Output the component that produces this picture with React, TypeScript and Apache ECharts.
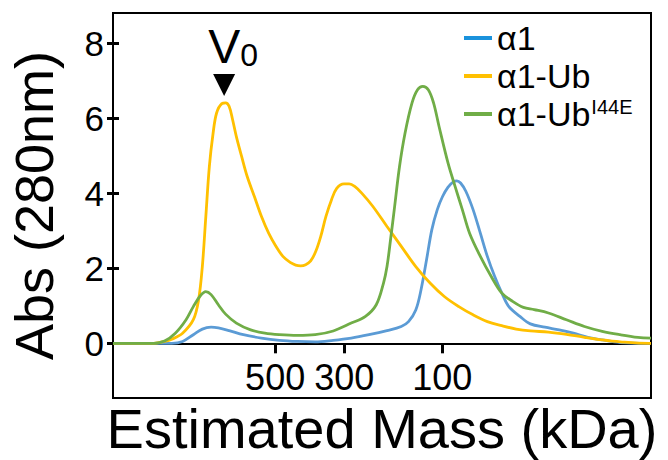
import React, { useEffect, useRef } from "react";
import * as echarts from "echarts";

// Elution position (arbitrary volume units) vs absorbance at 280 nm
const alpha1: [number, number][] = [
  [0, 0], [2.35, 0], [2.78, 0.05], [3.21, 0.23], [3.57, 0.38], [3.92, 0.43], [4.21, 0.41],
  [4.64, 0.34], [5.21, 0.23], [5.93, 0.14], [6.65, 0.08], [7.37, 0.05], [8.08, 0.04],
  [8.8, 0.08], [9.52, 0.14], [10.23, 0.23], [10.95, 0.34], [11.52, 0.45], [11.81, 0.58],
  [12.1, 0.89], [12.31, 1.43], [12.53, 2.23], [12.74, 3.03], [12.96, 3.57], [13.17, 3.92],
  [13.39, 4.17], [13.6, 4.31], [13.74, 4.34], [13.89, 4.28], [14.1, 4.06], [14.39, 3.57],
  [14.68, 2.94], [14.96, 2.32], [15.25, 1.79], [15.54, 1.34], [15.82, 0.98], [16.26, 0.72],
  [16.68, 0.52], [17.26, 0.43], [17.83, 0.36], [18.4, 0.27], [18.98, 0.16], [19.55, 0.09],
  [20.27, 0.02], [21.42, 0], [21.5, 0],
];

const alpha1Ub: [number, number][] = [
  [0, 0], [1.63, 0], [2.06, 0.05], [2.35, 0.11], [2.78, 0.27], [3.21, 0.63], [3.42, 1.16],
  [3.57, 2.05], [3.71, 3.39], [3.85, 4.72], [4.0, 5.61], [4.14, 6.15], [4.35, 6.4],
  [4.5, 6.42], [4.64, 6.33], [4.78, 5.97], [4.93, 5.52], [5.14, 4.99], [5.36, 4.46],
  [5.65, 3.92], [5.93, 3.39], [6.22, 2.94], [6.51, 2.59], [6.79, 2.32], [7.08, 2.16],
  [7.3, 2.09], [7.5, 2.07], [7.7, 2.1], [7.9, 2.2], [8.1, 2.45], [8.3, 2.85], [8.51, 3.39],
  [8.73, 3.83], [8.94, 4.14], [9.23, 4.26], [9.44, 4.26], [9.66, 4.19], [9.94, 4.01],
  [10.38, 3.66], [10.95, 3.12], [11.52, 2.59], [12.1, 2.05], [12.67, 1.61], [13.24, 1.25],
  [13.82, 0.98], [14.39, 0.76], [14.96, 0.58], [15.54, 0.47], [16.11, 0.38], [16.68, 0.33],
  [17.4, 0.3], [18.12, 0.24], [18.84, 0.16], [19.55, 0.09], [20.27, 0.04], [21.42, 0],
  [21.5, 0],
];

const alpha1UbI44E: [number, number][] = [
  [0, 0], [1.63, 0], [2.06, 0.06], [2.49, 0.27], [2.92, 0.63], [3.21, 0.98], [3.49, 1.27],
  [3.71, 1.38], [3.92, 1.3], [4.21, 1.03], [4.5, 0.78], [4.93, 0.54], [5.5, 0.36],
  [6.07, 0.27], [6.65, 0.23], [7.37, 0.21], [8.08, 0.23], [8.8, 0.33], [9.52, 0.54],
  [10.09, 0.72], [10.52, 1.03], [10.81, 1.61], [10.95, 2.05], [11.09, 2.76], [11.24, 3.57],
  [11.45, 4.72], [11.67, 5.61], [11.95, 6.42], [12.17, 6.77], [12.38, 6.86], [12.6, 6.77],
  [12.81, 6.42], [13.03, 5.79], [13.39, 4.81], [13.67, 4.19], [13.96, 3.57], [14.25, 2.94],
  [14.68, 2.32], [15.11, 1.79], [15.54, 1.34], [15.97, 1.12], [16.4, 0.96], [16.83, 0.9],
  [17.4, 0.81], [18.12, 0.63], [18.84, 0.45], [19.55, 0.32], [20.27, 0.23], [20.98, 0.16],
  [21.5, 0.14],
];

const massTickPositions = [6.48, 9.24, 13.16];
const massTickLabels = ["500", "300", "100"];
const absTicks = [0, 2, 4, 6, 8];
const voidPeak: [number, number] = [4.44, 6.42];

const seriesNames = ["α1", "α1-Ub", "α1-UbI44E"];
const lineColors = ["#5B9BD5", "#FFC000", "#70AD47"];
const legendColors = ["#1A92DC", "#FFC000", "#70AD47"];

const FONT = "Liberation Sans";

const Y_MIN = -1.46;
const Y_MAX = 8.82;
const GRID = { left: 113, top: 13, right: 17, bottom: 62 };
const CHART_H = 460;

export default function App() {
  const ref = useRef<HTMLDivElement>(null);

  useEffect(() => {
    if (!ref.current) return;
    const chart = echarts.init(ref.current, undefined, { renderer: "svg" });
    const datasets = [alpha1, alpha1Ub, alpha1UbI44E];

    // place the x axis line at y = 0 of the value scale
    const gridH = CHART_H - GRID.top - GRID.bottom;
    const zeroOffset = -((0 - Y_MIN) / (Y_MAX - Y_MIN)) * gridH;

    chart.setOption({
      animation: false,
      backgroundColor: "#ffffff",
      textStyle: { fontFamily: FONT },
      grid: {
        ...GRID,
        show: true,
        borderColor: "#000",
        borderWidth: 2,
        backgroundColor: "transparent",
        containLabel: false,
        outerBoundsMode: "none",
      },
      legend: {
        orient: "vertical",
        left: 459,
        top: 16,
        icon: "rect",
        itemWidth: 28,
        itemHeight: 4,
        itemGap: 4,
        data: seriesNames.map((n, i) => ({ name: n, itemStyle: { color: legendColors[i] } })),
        formatter: (name: string) =>
          name === "α1-UbI44E" ? "{n|α1-Ub}{sup|I44E}" : `{n|${name}}`,
        textStyle: {
          fontFamily: FONT,
          fontSize: 34,
          color: "#000",
          rich: {
            n: { fontSize: 34, fontFamily: FONT, color: "#000", lineHeight: 34, verticalAlign: "bottom" },
            sup: { fontSize: 20, fontFamily: FONT, color: "#000", lineHeight: 20, verticalAlign: "top", padding: [0, 0, 0, 1] },
          },
        },
      },
      xAxis: {
        type: "value",
        min: 0,
        max: 21.5,
        position: "bottom",
        offset: zeroOffset,
        name: "Estimated Mass (kDa)",
        nameLocation: "middle",
        nameGap: 57,
        nameTextStyle: { fontSize: 56, color: "#000", fontFamily: FONT },
        axisLine: { show: true, onZero: false, lineStyle: { color: "#000", width: 2 } },
        axisTick: {
          show: true,
          customValues: massTickPositions,
          length: 10,
          lineStyle: { color: "#000", width: 3 },
        },
        axisLabel: {
          show: true,
          customValues: massTickPositions,
          margin: 16,
          fontSize: 36,
          color: "#000",
          fontFamily: FONT,
          formatter: (v: number) => {
            let best = 0;
            massTickPositions.forEach((p, i) => {
              if (Math.abs(p - v) < Math.abs(massTickPositions[best] - v)) best = i;
            });
            return massTickLabels[best];
          },
        },
        splitLine: { show: false },
      },
      yAxis: [
        {
          type: "value",
          min: Y_MIN,
          max: Y_MAX,
          name: "Abs (280nm)",
          nameLocation: "middle",
          nameGap: 52,
          nameTextStyle: { fontSize: 54, color: "#000", fontFamily: FONT },
          axisLine: { show: true, lineStyle: { color: "#000", width: 2 } },
          axisTick: { show: true, customValues: absTicks, length: 6, lineStyle: { color: "#000", width: 3 } },
          axisLabel: {
            show: true,
            customValues: absTicks,
            margin: 9,
            fontSize: 35,
            color: "#000",
            fontFamily: FONT,
          },
          splitLine: { show: false },
        },
        {
          type: "value",
          min: Y_MIN,
          max: Y_MAX,
          position: "left",
          axisLine: { show: false },
          axisTick: { show: true, inside: true, customValues: absTicks, length: 6, lineStyle: { color: "#000", width: 3 } },
          axisLabel: { show: false },
          splitLine: { show: false },
        },
      ],
      series: datasets.map((d, i) => ({
        name: seriesNames[i],
        type: "line",
        data: d,
        yAxisIndex: 0,
        showSymbol: false,
        smooth: 0.35,
        lineStyle: { color: lineColors[i], width: 2.8 },
        itemStyle: { color: lineColors[i] },
        z: 3,
        markPoint:
          i === 1
            ? {
                symbol: "triangle",
                symbolRotate: 180,
                symbolSize: [22, 22],
                symbolOffset: [0, -18],
                itemStyle: { color: "#000" },
                silent: true,
                label: {
                  show: true,
                  position: "top",
                  distance: 3,
                  offset: [9, 0],
                  formatter: "{v|V}{s|0}",
                  rich: {
                    v: { fontSize: 48, color: "#000", fontFamily: FONT, verticalAlign: "bottom", lineHeight: 48 },
                    s: { fontSize: 32, color: "#000", fontFamily: FONT, verticalAlign: "bottom", lineHeight: 40 },
                  },
                },
                data: [{ coord: voidPeak, name: "V0" }],
              }
            : undefined,
      })),
    });

    return () => chart.dispose();
  }, []);

  return (
    <div
      ref={ref}
      style={{ position: "fixed", left: 0, top: 0, width: 668, height: 460, background: "#fff" }}
    />
  );
}
